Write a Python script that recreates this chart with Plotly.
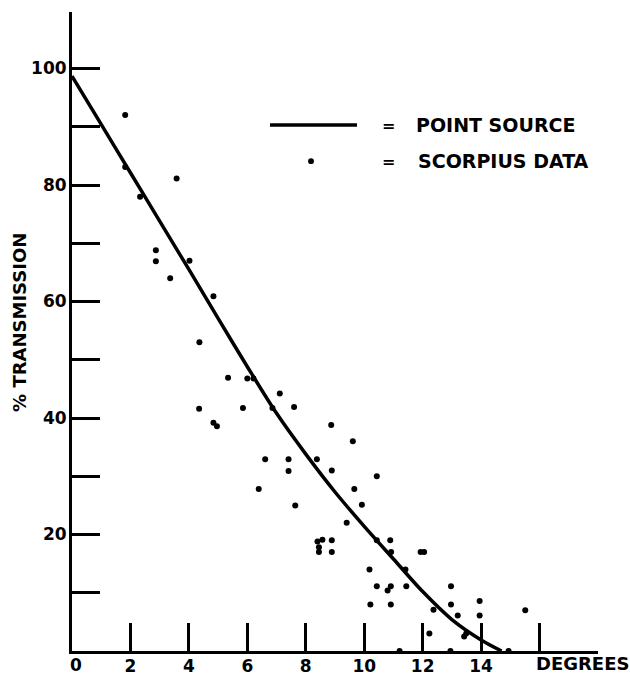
import plotly.graph_objects as go

# Scorpius data points (degrees, % transmission)
scorpius_x = [1.82, 1.82, 2.33, 3.58, 2.87, 2.87, 4.02, 3.36, 4.84, 4.36,
              5.34, 6.00, 6.21, 7.11, 4.35, 4.84, 4.96, 5.85, 6.86, 7.60,
              8.87, 6.61, 7.41, 8.38, 7.41, 8.89, 6.39, 7.64, 9.40, 8.40,
              8.57, 8.45, 8.45, 8.89, 8.89, 9.61, 10.43, 9.66, 9.92, 10.43,
              10.89, 10.92, 11.93, 12.05, 10.18, 11.41, 10.43, 10.91, 10.80, 11.44,
              10.21, 10.91, 12.97, 12.97, 12.37, 13.20, 12.23, 13.42, 13.49, 11.21,
              12.95, 13.95, 13.95, 15.51, 14.94]
scorpius_y = [92.0, 83.1, 78.0, 81.1, 68.8, 66.9, 67.0, 64.0, 60.9, 53.0,
              46.9, 46.8, 46.8, 44.2, 41.6, 39.2, 38.6, 41.7, 41.7, 41.9,
              38.8, 32.9, 32.9, 32.9, 30.9, 31.0, 27.8, 25.0, 22.0, 18.8,
              19.1, 17.8, 17.0, 19.0, 17.0, 36.0, 30.0, 27.8, 25.1, 19.0,
              19.0, 17.0, 17.0, 17.0, 14.0, 14.0, 11.1, 11.1, 10.4, 11.1,
              8.0, 8.0, 11.1, 8.0, 7.1, 6.1, 3.0, 2.5, 3.0, 0.0,
              0.0, 8.6, 6.1, 7.0, 0.0]

# Point source curve
source_x = [0, 1, 2, 3, 4, 5, 6, 7, 8, 9, 10, 11, 12, 13, 14, 14.7]
source_y = [98.7, 90.4, 82.1, 73.8, 65.5, 57.1, 48.8, 40.8, 33.8, 27.3,
            21.4, 15.8, 10.2, 5.4, 1.9, 0.0]

x_tickvals = [2, 4, 6, 8, 10, 12, 14, 16]
x_ticktext = ["2", "4", "6", "8", "10", "12", "14", ""]
y_tickvals = [10, 20, 30, 40, 50, 60, 70, 80, 90, 100]
y_ticktext = ["", "20", "", "40", "", "60", "", "80", "", "100"]

FONT = "DejaVu Sans"

fig = go.Figure()
fig.add_trace(go.Scatter(
    x=source_x, y=source_y, mode="lines",
    line=dict(color="black", width=3.5, shape="spline", smoothing=0.8),
    cliponaxis=False, showlegend=False, hoverinfo="skip"))
fig.add_trace(go.Scatter(
    x=scorpius_x, y=scorpius_y, mode="markers",
    marker=dict(color="black", size=6),
    cliponaxis=False, showlegend=False))

fig.update_layout(
    width=630, height=675,
    margin=dict(l=72, r=32, t=12, b=24),
    paper_bgcolor="white", plot_bgcolor="white",
    font=dict(family=FONT, color="black"),
    xaxis=dict(range=[0, 18], showgrid=False, zeroline=False, automargin=False,
               showline=True, linecolor="black", linewidth=3,
               ticks="inside", ticklen=28, tickwidth=2.5, tickcolor="black",
               tickvals=x_tickvals, ticktext=x_ticktext,
               ticklabelstandoff=-2,
               tickfont=dict(family=FONT, size=17, weight="bold")),
    yaxis=dict(range=[0, 109.7], showgrid=False, zeroline=False, automargin=False,
               showline=True, linecolor="black", linewidth=3,
               ticks="inside", ticklen=28, tickwidth=2.5, tickcolor="black",
               tickvals=y_tickvals, ticktext=y_ticktext,
               ticklabelstandoff=-1,
               tickfont=dict(family=FONT, size=17, weight="bold")),
)

# x-axis "0" label and DEGREES
fig.add_annotation(x=0.0076, y=-0.022, xref="paper", yref="paper",
                   text="0", showarrow=False, xanchor="center", yanchor="middle",
                   font=dict(family=FONT, size=17, weight="bold"))
fig.add_annotation(x=0.9696, y=-0.0188, xref="paper", yref="paper",
                   text="DEGREES", showarrow=False, xanchor="center", yanchor="middle",
                   font=dict(family=FONT, size=18, weight="bold"))
# y-axis title
fig.add_annotation(x=-0.0989, y=0.515, xref="paper", yref="paper",
                   text="% TRANSMISSION", textangle=-90, showarrow=False,
                   xanchor="center", yanchor="middle",
                   font=dict(family=FONT, size=18, weight="bold"))

# legend
fig.add_shape(type="line", xref="paper", yref="paper",
              x0=0.3764, x1=0.5418, y0=0.823, y1=0.823,
              line=dict(color="black", width=3.5))
fig.add_shape(type="circle", xref="paper", yref="paper",
              x0=0.4544 - 0.0055, x1=0.4544 + 0.0055,
              y0=0.7666 - 0.0045, y1=0.7666 + 0.0045,
              fillcolor="black", line=dict(color="black", width=0))
fig.add_annotation(x=0.6008, y=0.823, xref="paper", yref="paper",
                   text="=", showarrow=False, xanchor="center", yanchor="middle",
                   font=dict(family=FONT, size=16, weight="bold"))
fig.add_annotation(x=0.6008, y=0.7666, xref="paper", yref="paper",
                   text="=", showarrow=False, xanchor="center", yanchor="middle",
                   font=dict(family=FONT, size=16, weight="bold"))
fig.add_annotation(x=0.650, y=0.823, xref="paper", yref="paper",
                   text="POINT SOURCE", showarrow=False, xanchor="left", yanchor="middle",
                   font=dict(family=FONT, size=19, weight="bold"))
fig.add_annotation(x=0.654, y=0.7666, xref="paper", yref="paper",
                   text="SCORPIUS DATA", showarrow=False, xanchor="left", yanchor="middle",
                   font=dict(family=FONT, size=19, weight="bold"))

fig.write_html("out.html")
